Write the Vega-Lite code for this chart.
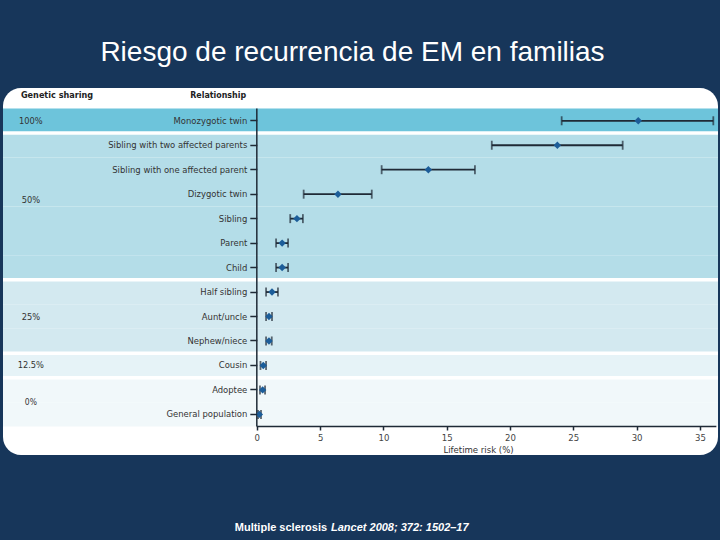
{
  "$schema": "https://vega.github.io/schema/vega-lite/v6.json",
  "width": 715,
  "height": 367,
  "autosize": {"type": "none"},
  "padding": {"left": 3, "top": 88, "right": 2, "bottom": 85},
  "background": "#17365a",
  "title": {
    "text": "Riesgo de recurrencia de EM en familias",
    "anchor": "middle",
    "dx": -8,
    "offset": 21,
    "font": "Liberation Sans",
    "fontSize": 28,
    "fontWeight": "normal",
    "color": "#ffffff"
  },
  "config": {
    "view": {"fill": "#ffffff", "stroke": null, "cornerRadius": 18},
    "axisY": {
      "offset": -253.8,
      "domain": false,
      "grid": false,
      "tickSize": 7,
      "tickWidth": 1.5,
      "tickColor": "#1f2a36",
      "labelPadding": 3,
      "labelFont": "Liberation Sans Narrow, DejaVu Sans Condensed, Liberation Sans",
      "labelFontSize": 9.4,
      "labelColor": "#333333",
      "labelLimit": 250
    },
    "axisX": {
      "offset": -30,
      "domain": false,
      "grid": false,
      "tickSize": 5,
      "tickWidth": 1.5,
      "tickColor": "#1f2a36",
      "labelPadding": 2,
      "labelFont": "Liberation Sans Narrow, DejaVu Sans Condensed, Liberation Sans",
      "labelFontSize": 9.5,
      "labelColor": "#444444",
      "titleFont": "Liberation Sans Narrow, DejaVu Sans Condensed, Liberation Sans",
      "titleFontSize": 9.5,
      "titleFontWeight": "normal",
      "titleColor": "#333333",
      "titlePadding": 3,
      "titleX": 475,
      "titleAlign": "center"
    }
  },
  "datasets": {
    "rows": [
      {"relationship": "Monozygotic twin", "sharing": "100%", "risk": 30.13, "low": 24.08, "high": 36.06},
      {"relationship": "Sibling with two affected parents", "sharing": "50%", "risk": 23.74, "low": 18.56, "high": 28.9},
      {"relationship": "Sibling with one affected parent", "sharing": "50%", "risk": 13.55, "low": 9.86, "high": 17.23},
      {"relationship": "Dizygotic twin", "sharing": "50%", "risk": 6.41, "low": 3.7, "high": 9.08},
      {"relationship": "Sibling", "sharing": "50%", "risk": 3.17, "low": 2.64, "high": 3.64},
      {"relationship": "Parent", "sharing": "50%", "risk": 2.0, "low": 1.52, "high": 2.47},
      {"relationship": "Child", "sharing": "50%", "risk": 2.0, "low": 1.52, "high": 2.47},
      {"relationship": "Half sibling", "sharing": "25%", "risk": 1.2, "low": 0.73, "high": 1.67},
      {"relationship": "Aunt/uncle", "sharing": "25%", "risk": 0.96, "low": 0.73, "high": 1.2},
      {"relationship": "Nephew/niece", "sharing": "25%", "risk": 0.96, "low": 0.73, "high": 1.18},
      {"relationship": "Cousin", "sharing": "12.5%", "risk": 0.51, "low": 0.29, "high": 0.73},
      {"relationship": "Adoptee", "sharing": "0%", "risk": 0.46, "low": 0.25, "high": 0.65},
      {"relationship": "General population", "sharing": "0%", "risk": 0.2, "low": 0.1, "high": 0.33}
    ],
    "groups": [
      {"sharing": "100%", "anchor": "Monozygotic twin"},
      {"sharing": "50%", "anchor": "Dizygotic twin"},
      {"sharing": "25%", "anchor": "Aunt/uncle"},
      {"sharing": "12.5%", "anchor": "Cousin"},
      {"sharing": "0%", "anchor": "Adoptee"}
    ],
    "headers": [
      {"header": "Genetic sharing"},
      {"header": "Relationship"}
    ],
    "footer": [
      {"part": "Multiple sclerosis"},
      {"part": "Lancet 2008; 372: 1502–17"}
    ],
    "one": [{}]
  },
  "data": {"name": "rows"},
  "layer": [
    {
      "mark": {"type": "rect"},
      "encoding": {
        "x": {"datum": -20.05, "type": "quantitative", "scale": {"domain": [-20.05, 36.43], "nice": false, "zero": false}, "title": "Lifetime risk (%)", "axis": {"values": [0, 5, 10, 15, 20, 25, 30, 35]}},
        "x2": {"datum": 36.43},
        "y": {"field": "relationship", "type": "nominal", "title": null, "sort": null,
              "scale": {"domain": ["Monozygotic twin", "Sibling with two affected parents", "Sibling with one affected parent", "Dizygotic twin", "Sibling", "Parent", "Child", "Half sibling", "Aunt/uncle", "Nephew/niece", "Cousin", "Adoptee", "General population"], "paddingInner": 0, "paddingOuter": 1.0826, "align": 0.4198}},
        "color": {"field": "sharing", "type": "nominal", "legend": null,
                  "scale": {"domain": ["100%", "50%", "25%", "12.5%", "0%"], "range": ["#6dc4db", "#b4dde8", "#d3e9f0", "#e6f3f7", "#f1f8fa"]}}
      }
    },
    {
      "transform": [{"filter": {"field": "relationship", "oneOf": ["Sibling with two affected parents", "Half sibling", "Cousin", "Adoptee"]}}],
      "mark": {"type": "rule", "color": "#ffffff", "strokeWidth": 3.5},
      "encoding": {
        "x": {"datum": -20.05, "type": "quantitative", "scale": {"domain": [-20.05, 36.43], "nice": false, "zero": false}, "title": "Lifetime risk (%)", "axis": {"values": [0, 5, 10, 15, 20, 25, 30, 35]}},
        "x2": {"datum": 36.43},
        "y": {"field": "relationship", "type": "nominal", "title": null, "sort": null, "bandPosition": 0}
      }
    },
    {
      "data": {"name": "one"},
      "mark": {"type": "rule", "color": "#1f2a36", "strokeWidth": 1.5},
      "encoding": {
        "x": {"datum": 0, "type": "quantitative", "scale": {"domain": [-20.05, 36.43], "nice": false, "zero": false}, "title": "Lifetime risk (%)", "axis": {"values": [0, 5, 10, 15, 20, 25, 30, 35]}},
        "y": {"datum": "Monozygotic twin", "type": "nominal", "title": null, "bandPosition": 0},
        "y2": {"datum": "General population", "bandPosition": 1}
      }
    },
    {
      "data": {"name": "one"},
      "mark": {"type": "rule", "color": "#1f2a36", "strokeWidth": 1.5},
      "encoding": {
        "x": {"datum": 0, "type": "quantitative", "scale": {"domain": [-20.05, 36.43], "nice": false, "zero": false}, "title": "Lifetime risk (%)", "axis": {"values": [0, 5, 10, 15, 20, 25, 30, 35]}},
        "x2": {"datum": 36.3},
        "y": {"datum": "General population", "type": "nominal", "title": null, "bandPosition": 1}
      }
    },
    {
      "mark": {"type": "rule", "color": "#1f2a36", "strokeWidth": 1.8},
      "encoding": {
        "x": {"field": "low", "type": "quantitative", "scale": {"domain": [-20.05, 36.43], "nice": false, "zero": false}, "title": "Lifetime risk (%)", "axis": {"values": [0, 5, 10, 15, 20, 25, 30, 35]}},
        "x2": {"field": "high"},
        "y": {"field": "relationship", "type": "nominal", "title": null, "sort": null}
      }
    },
    {
      "mark": {"type": "tick", "color": "#1f2a36", "thickness": 1.8, "size": 9},
      "encoding": {
        "x": {"field": "low", "type": "quantitative", "scale": {"domain": [-20.05, 36.43], "nice": false, "zero": false}, "title": "Lifetime risk (%)", "axis": {"values": [0, 5, 10, 15, 20, 25, 30, 35]}},
        "y": {"field": "relationship", "type": "nominal", "title": null, "sort": null}
      }
    },
    {
      "mark": {"type": "tick", "color": "#1f2a36", "thickness": 1.8, "size": 9},
      "encoding": {
        "x": {"field": "high", "type": "quantitative", "scale": {"domain": [-20.05, 36.43], "nice": false, "zero": false}, "title": "Lifetime risk (%)", "axis": {"values": [0, 5, 10, 15, 20, 25, 30, 35]}},
        "y": {"field": "relationship", "type": "nominal", "title": null, "sort": null}
      }
    },
    {
      "mark": {"type": "point", "shape": "diamond", "filled": true, "size": 55, "color": "#1c5d99", "opacity": 1},
      "encoding": {
        "x": {"field": "risk", "type": "quantitative", "scale": {"domain": [-20.05, 36.43], "nice": false, "zero": false}, "title": "Lifetime risk (%)", "axis": {"values": [0, 5, 10, 15, 20, 25, 30, 35]}},
        "y": {"field": "relationship", "type": "nominal", "title": null, "sort": null}
      }
    },
    {
      "data": {"name": "groups"},
      "transform": [{"filter": {"field": "sharing", "oneOf": ["100%", "25%", "12.5%"]}}],
      "mark": {"type": "text", "align": "center", "baseline": "middle", "font": "Liberation Sans Narrow, DejaVu Sans Condensed, Liberation Sans", "fontSize": 9.2, "color": "#333333"},
      "encoding": {
        "x": {"datum": -17.85, "type": "quantitative", "scale": {"domain": [-20.05, 36.43], "nice": false, "zero": false}, "title": "Lifetime risk (%)", "axis": {"values": [0, 5, 10, 15, 20, 25, 30, 35]}},
        "y": {"field": "anchor", "type": "nominal", "title": null, "sort": null},
        "text": {"field": "sharing"}
      }
    },
    {
      "data": {"name": "groups"},
      "transform": [{"filter": {"field": "sharing", "equal": "50%"}}],
      "mark": {"type": "text", "align": "center", "baseline": "middle", "font": "Liberation Sans Narrow, DejaVu Sans Condensed, Liberation Sans", "fontSize": 9.2, "color": "#333333"},
      "encoding": {
        "x": {"datum": -17.85, "type": "quantitative", "scale": {"domain": [-20.05, 36.43], "nice": false, "zero": false}, "title": "Lifetime risk (%)", "axis": {"values": [0, 5, 10, 15, 20, 25, 30, 35]}},
        "y": {"field": "anchor", "type": "nominal", "title": null, "sort": null, "bandPosition": 0.75},
        "text": {"field": "sharing"}
      }
    },
    {
      "data": {"name": "groups"},
      "transform": [{"filter": {"field": "sharing", "equal": "0%"}}],
      "mark": {"type": "text", "align": "center", "baseline": "middle", "font": "Liberation Sans Narrow, DejaVu Sans Condensed, Liberation Sans", "fontSize": 8.5, "color": "#333333"},
      "encoding": {
        "x": {"datum": -17.85, "type": "quantitative", "scale": {"domain": [-20.05, 36.43], "nice": false, "zero": false}, "title": "Lifetime risk (%)", "axis": {"values": [0, 5, 10, 15, 20, 25, 30, 35]}},
        "y": {"field": "anchor", "type": "nominal", "title": null, "sort": null, "bandPosition": 1},
        "text": {"field": "sharing"}
      }
    },
    {
      "data": {"name": "headers"},
      "transform": [{"filter": {"field": "header", "equal": "Genetic sharing"}}],
      "mark": {"type": "text", "align": "left", "baseline": "middle", "dy": -14, "font": "Liberation Sans Narrow, DejaVu Sans Condensed, Liberation Sans", "fontSize": 9, "fontWeight": "bold", "color": "#222222"},
      "encoding": {
        "x": {"datum": -18.63, "type": "quantitative", "scale": {"domain": [-20.05, 36.43], "nice": false, "zero": false}, "title": "Lifetime risk (%)", "axis": {"values": [0, 5, 10, 15, 20, 25, 30, 35]}},
        "y": {"datum": "Monozygotic twin", "type": "nominal", "title": null, "bandPosition": 0},
        "text": {"field": "header"}
      }
    },
    {
      "data": {"name": "headers"},
      "transform": [{"filter": {"field": "header", "equal": "Relationship"}}],
      "mark": {"type": "text", "align": "right", "baseline": "middle", "dy": -14, "font": "Liberation Sans Narrow, DejaVu Sans Condensed, Liberation Sans", "fontSize": 8.8, "fontWeight": "bold", "color": "#222222"},
      "encoding": {
        "x": {"datum": -0.85, "type": "quantitative", "scale": {"domain": [-20.05, 36.43], "nice": false, "zero": false}, "title": "Lifetime risk (%)", "axis": {"values": [0, 5, 10, 15, 20, 25, 30, 35]}},
        "y": {"datum": "Monozygotic twin", "type": "nominal", "title": null, "bandPosition": 0},
        "text": {"field": "header"}
      }
    },
    {
      "data": {"name": "footer"},
      "transform": [{"filter": {"field": "part", "equal": "Multiple sclerosis"}}],
      "mark": {"type": "text", "align": "right", "baseline": "middle", "dy": 101, "font": "Liberation Sans", "fontSize": 11, "fontWeight": "bold", "color": "#ffffff"},
      "encoding": {
        "x": {"datum": 5.55, "type": "quantitative", "scale": {"domain": [-20.05, 36.43], "nice": false, "zero": false}, "title": "Lifetime risk (%)", "axis": {"values": [0, 5, 10, 15, 20, 25, 30, 35]}},
        "y": {"datum": "General population", "type": "nominal", "title": null, "bandPosition": 1},
        "text": {"field": "part"}
      }
    },
    {
      "data": {"name": "footer"},
      "transform": [{"filter": {"field": "part", "equal": "Lancet 2008; 372: 1502–17"}}],
      "mark": {"type": "text", "align": "left", "baseline": "middle", "dy": 101, "font": "Liberation Sans", "fontSize": 11, "fontWeight": "bold", "fontStyle": "italic", "color": "#ffffff"},
      "encoding": {
        "x": {"datum": 5.86, "type": "quantitative", "scale": {"domain": [-20.05, 36.43], "nice": false, "zero": false}, "title": "Lifetime risk (%)", "axis": {"values": [0, 5, 10, 15, 20, 25, 30, 35]}},
        "y": {"datum": "General population", "type": "nominal", "title": null, "bandPosition": 1},
        "text": {"field": "part"}
      }
    }
  ]
}
